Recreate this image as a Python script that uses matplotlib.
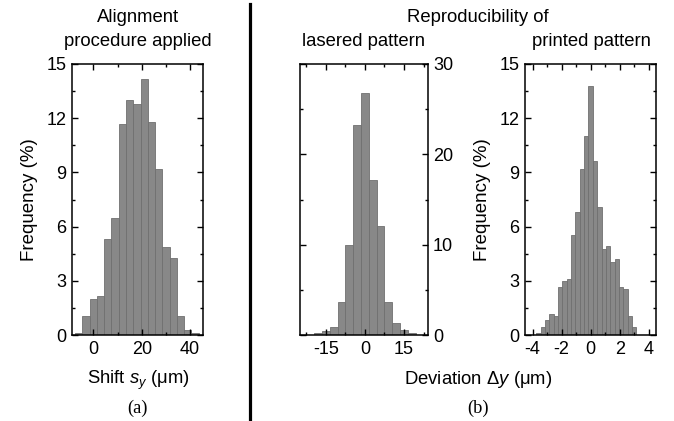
import matplotlib
matplotlib.use("Agg")
import matplotlib.pyplot as plt
from matplotlib.lines import Line2D
from matplotlib.ticker import MultipleLocator, FixedLocator

plt.rcParams['font.family'] = ['Liberation Sans', 'DejaVu Sans']
plt.rcParams['mathtext.fontset'] = 'custom'
plt.rcParams['mathtext.rm'] = 'Liberation Sans'
plt.rcParams['mathtext.it'] = 'Liberation Sans:italic'
plt.rcParams['axes.unicode_minus'] = False

# ---- data ----
shift_centers = [-6, -3, 0, 3, 6, 9, 12, 15, 18, 21, 24, 27, 30, 33, 36, 39, 42]
shift_freq = [0.1, 1.05, 2.0, 2.18, 5.3, 6.45, 11.68, 13.0, 12.8, 14.15, 11.8,
              9.2, 4.85, 4.28, 1.05, 0.3, 0.1]
shift_width = 3.0

laser_centers = [-18, -15, -12, -9, -6, -3, 0, 3, 6, 9, 12, 15, 18]
laser_freq = [0.26, 0.44, 0.9, 3.65, 10.0, 23.2, 26.75, 17.2, 12.1, 3.6, 1.3, 0.5, 0.26]
laser_width = 3.0

print_centers = [-3.6, -3.3, -3.0, -2.7, -2.4, -2.1, -1.8, -1.5, -1.2, -0.9, -0.6, -0.3,
                 0.0, 0.3, 0.6, 0.9, 1.2, 1.5, 1.8, 2.1, 2.4, 2.7, 3.0]
print_freq = [0.13, 0.46, 0.83, 1.14, 1.07, 2.66, 2.97, 3.12, 5.55, 6.83, 9.2, 11.0,
              13.8, 9.65, 7.07, 4.78, 4.94, 4.04, 4.19, 2.66, 2.53, 1.07, 0.46]
print_width = 0.3

W, H = 674, 421
fig = plt.figure(figsize=(W / 100, H / 100), dpi=100)

def axes_px(l, r, t, b):
    return fig.add_axes([l / W, 1 - b / H, (r - l) / W, (b - t) / H])

FS = 13
bar_kw = dict(color='#888888', edgecolor='#707070', linewidth=0.6, align='center')

def style(ax):
    for s in ax.spines.values():
        s.set_linewidth(1.1)
    ax.tick_params(which='both', direction='in', top=True, right=True,
                   labelsize=FS, width=1.0, pad=4)
    ax.tick_params(which='major', length=4.5)
    ax.tick_params(which='minor', length=2.5)

# Panel a
ax1 = axes_px(72.3, 202.7, 64, 335)
ax1.bar(shift_centers, shift_freq, width=shift_width, **bar_kw)
ax1.set_xlim(-8.7, 45.2)
ax1.set_ylim(0, 15)
ax1.xaxis.set_major_locator(FixedLocator([0, 20, 40]))
ax1.xaxis.set_minor_locator(FixedLocator([10, 30]))
ax1.yaxis.set_major_locator(MultipleLocator(3))
ax1.yaxis.set_minor_locator(MultipleLocator(1.5))
style(ax1)
ax1.set_ylabel('Frequency (%)', fontsize=FS + 0.5, labelpad=6)

# Panel b1
ax2 = axes_px(299.7, 427.5, 64, 335)
ax2.bar(laser_centers, laser_freq, width=laser_width, **bar_kw)
ax2.set_xlim(-25, 24)
ax2.set_ylim(0, 30)
ax2.xaxis.set_major_locator(FixedLocator([-15, 0, 15]))
ax2.xaxis.set_minor_locator(FixedLocator([-22.5, -7.5, 7.5, 22.5]))
ax2.yaxis.set_major_locator(MultipleLocator(10))
ax2.yaxis.set_minor_locator(MultipleLocator(5))
style(ax2)
ax2.tick_params(labelleft=False, labelright=True)

# Panel b2
ax3 = axes_px(525.3, 656, 64, 335)
ax3.bar(print_centers, print_freq, width=print_width, **bar_kw)
ax3.set_xlim(-4.5, 4.5)
ax3.set_ylim(0, 15)
ax3.xaxis.set_major_locator(MultipleLocator(2))
ax3.xaxis.set_minor_locator(MultipleLocator(1))
ax3.yaxis.set_major_locator(MultipleLocator(3))
ax3.yaxis.set_minor_locator(MultipleLocator(1.5))
style(ax3)
ax3.set_ylabel('Frequency (%)', fontsize=FS + 0.5, labelpad=6)

def txt(x, y, s, **kw):
    kw.setdefault('fontsize', FS + 0.3)
    fig.text(x / W, 1 - y / H, s, ha='center', va='center', **kw)

txt(138, 17, 'Alignment')
txt(138, 41, 'procedure applied')
txt(478, 17, 'Reproducibility of')
txt(364, 41, 'lasered pattern')
txt(591, 41, 'printed pattern')
txt(138, 380, 'Shift $s_y$ (μm)')
txt(478, 380, 'Deviation Δ$y$ (μm)')
txt(138, 408, '(a)', family=['Liberation Serif', 'DejaVu Serif'])
txt(478, 408, '(b)', family=['Liberation Serif', 'DejaVu Serif'])

fig.add_artist(Line2D([250 / W, 250 / W], [1 - 4 / H, 0], color='black', lw=2.3,
                      transform=fig.transFigure))

fig.savefig('out.png', dpi=100)
